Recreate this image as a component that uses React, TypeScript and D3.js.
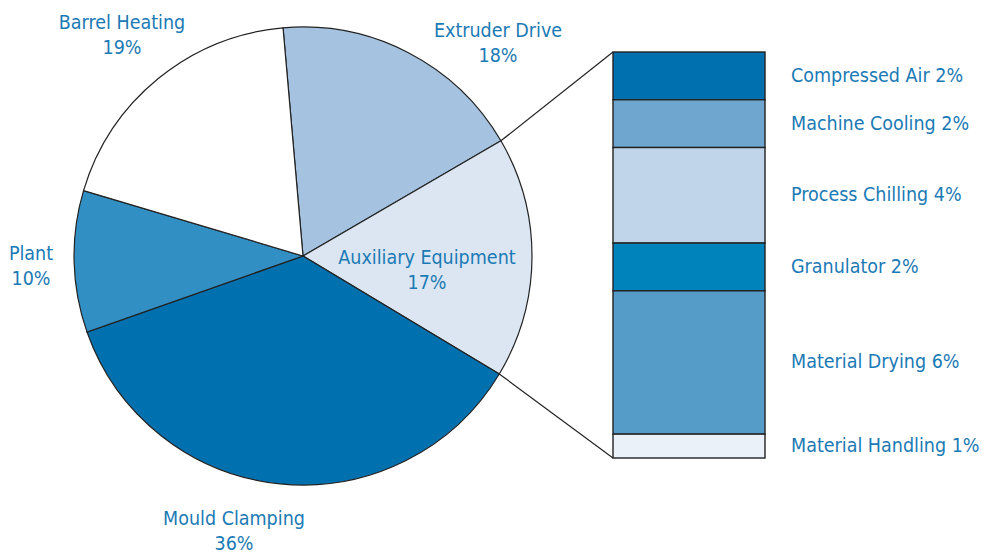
import React from 'react';
import * as d3 from 'd3';

const pieLabels = ['Extruder Drive', 'Auxiliary Equipment', 'Mould Clamping', 'Plant', 'Barrel Heating'];
const pieValues = [18, 17, 36, 10, 19];
const pieColors = ['#a5c3e0', '#dce6f2', '#0070ae', '#318fc3', '#ffffff'];

const barLabels = ['Compressed Air', 'Machine Cooling', 'Process Chilling', 'Granulator', 'Material Drying', 'Material Handling'];
const barValues = [2, 2, 4, 2, 6, 1];
const barColors = ['#0070ae', '#6fa6cf', '#c0d5ea', '#0082bb', '#559cc9', '#eaf1f9'];

const W = 985;
const H = 555;
const cx = 303;
const cy = 256;
const R = 229;
const textColor = '#1a7ab5';
const font = '"DejaVu Sans Condensed", "Liberation Sans Narrow", sans-serif';
const fs = 19.5;

// label anchor points for the pie labels
const pieLabelPos = [
  [498, 30],
  [427, 257],
  [234, 518],
  [31, 253],
  [122, 22],
];

const App = () => {
  const startAngle = (-5 * Math.PI) / 180;
  const pie = d3.pie<number>().sort(null).startAngle(startAngle).endAngle(startAngle + 2 * Math.PI);
  const arcs = pie(pieValues);
  const arc = d3.arc<d3.PieArcDatum<number>>().innerRadius(0).outerRadius(R);

  const barX = 613;
  const barW = 152;
  const total = d3.sum(barValues);
  const y = d3.scaleLinear().domain([0, total]).range([52, 458]);
  const cum = d3.cumsum(barValues);
  const starts = barValues.map((v, i) => cum[i] - v);

  const aux = arcs[1];
  const p0: [number, number] = [cx + R * Math.sin(aux.startAngle), cy - R * Math.cos(aux.startAngle)];
  const p1: [number, number] = [cx + R * Math.sin(aux.endAngle), cy - R * Math.cos(aux.endAngle)];

  return (
    <svg width={W} height={H} style={{ position: 'absolute', left: 0, top: 0 }}>
      <rect width={W} height={H} fill="#fff" />
      <g transform={`translate(${cx},${cy})`}>
        {arcs.map((a, i) => (
          <path key={i} d={arc(a) || ''} fill={pieColors[i]} stroke="#222" strokeWidth={1.2} />
        ))}
      </g>
      <line x1={p0[0]} y1={p0[1]} x2={barX} y2={y(0)} stroke="#222" strokeWidth={1.2} />
      <line x1={p1[0]} y1={p1[1]} x2={barX} y2={y(total)} stroke="#222" strokeWidth={1.2} />
      {barValues.map((v, i) => (
        <rect
          key={i}
          x={barX}
          y={y(starts[i])}
          width={barW}
          height={y(cum[i]) - y(starts[i])}
          fill={barColors[i]}
          stroke="#222"
          strokeWidth={1.4}
        />
      ))}
      {barValues.map((v, i) => (
        <text
          key={i}
          x={791}
          y={(y(starts[i]) + y(cum[i])) / 2 + 6}
          fill={textColor}
          fontFamily={font}
          fontSize={fs}
        >
          {`${barLabels[i]} ${v}%`}
        </text>
      ))}
      {pieValues.map((v, i) => (
        <text key={i} x={pieLabelPos[i][0]} y={pieLabelPos[i][1]} fill={textColor} fontFamily={font} fontSize={fs} textAnchor="middle">
          <tspan x={pieLabelPos[i][0]} dy={7}>{pieLabels[i]}</tspan>
          <tspan x={pieLabelPos[i][0]} dy={25}>{`${v}%`}</tspan>
        </text>
      ))}
    </svg>
  );
};

export default App;
